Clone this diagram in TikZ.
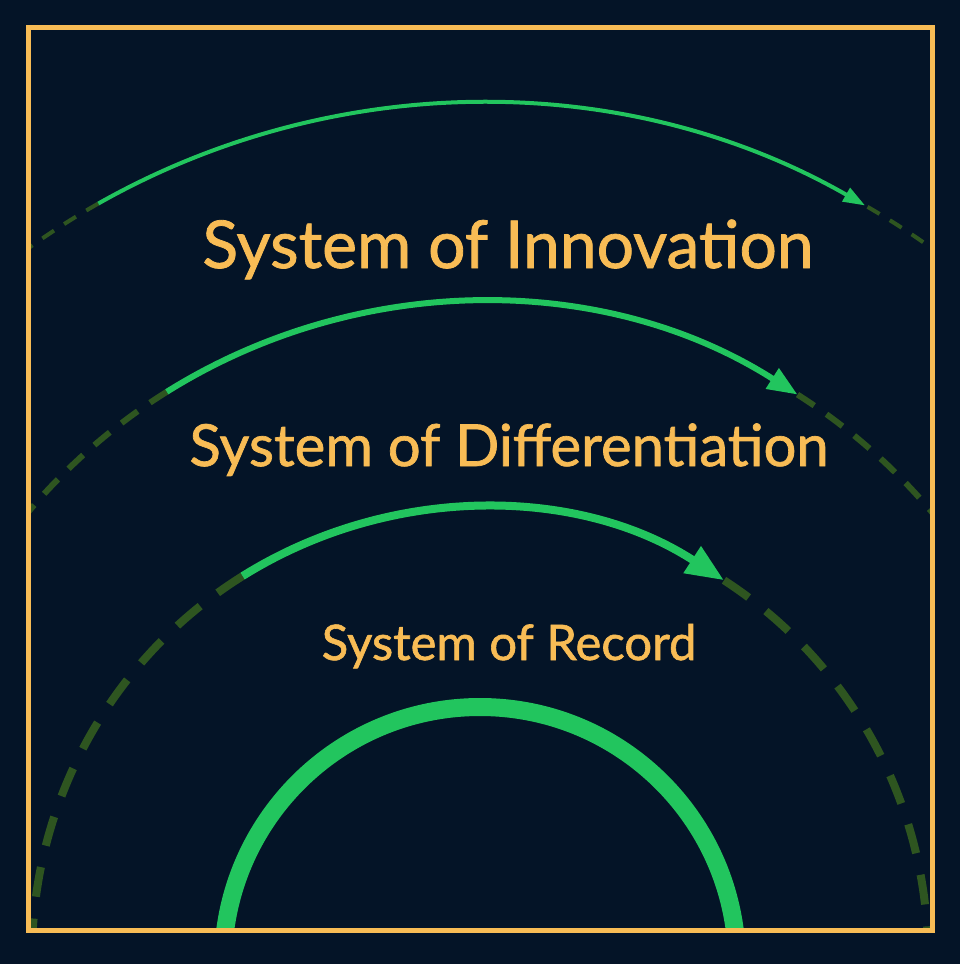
\documentclass[tikz,border=0pt]{standalone}
\usepackage{fontspec}
\setmainfont{Lato}
\newfontfamily\labelfont{Lato}[FakeBold=1.2]
\usetikzlibrary{arrows.meta}
\definecolor{bg}{HTML}{041427}
\definecolor{gold}{HTML}{F8BC55}
\definecolor{grn}{HTML}{22C55E}
\definecolor{dgrn}{HTML}{2E5520}
\tikzset{
  solidarc/.style={draw=grn, line cap=butt},
  dasharc/.style={draw=dgrn, line cap=butt},
  label/.style={text=gold, inner sep=0pt, anchor=base},
}
\begin{document}
\begin{tikzpicture}[x=1pt,y=-1pt]
\useasboundingbox (0,0) rectangle (960,964);
\fill[bg] (0,0) rectangle (960,964);
\begin{scope}
\clip (28,27) rectangle (932,930);
% innovation arc: center (480,878) r 775
\coordinate (c4) at (480,878);
\draw[dasharc, line width=4pt, dash pattern=on 14pt off 12pt] (c4) ++(-119.5:775) arc[start angle=-119.5, end angle=-132, radius=775];
\draw[dasharc, line width=4pt, dash pattern=on 14pt off 12pt] (c4) ++(-60:775) arc[start angle=-60, end angle=-48, radius=775];
\draw[solidarc, line width=4pt, -{Triangle[length=22pt,width=15pt]}] (c4) ++(-119.5:775) arc[start angle=-119.5, end angle=-60.2, radius=775];
% differentiation arc: center (480,893) r 591
\coordinate (c3) at (480,893);
\draw[dasharc, line width=6pt, dash pattern=on 20pt off 15pt] (c3) ++(-122:591) arc[start angle=-122, end angle=-145, radius=591];
\draw[dasharc, line width=6pt, dash pattern=on 20pt off 15pt] (c3) ++(-57.5:591) arc[start angle=-57.5, end angle=-35, radius=591];
\draw[solidarc, line width=6pt, -{Triangle[length=30pt,width=23pt]}] (c3) ++(-122:591) arc[start angle=-122, end angle=-57.5, radius=591];
% record arc: center (480,956) r 448
\coordinate (c2) at (480,956);
\draw[dasharc, line width=8pt, dash pattern=on 30pt off 22pt] (c2) ++(-122:448) arc[start angle=-122, end angle=-180, radius=448];
\draw[dasharc, line width=8pt, dash pattern=on 30pt off 22pt] (c2) ++(-57:448) arc[start angle=-57, end angle=0, radius=448];
\draw[solidarc, line width=8pt, -{Triangle[length=38pt,width=30pt]}] (c2) ++(-122:448) arc[start angle=-122, end angle=-57, radius=448];
% core arc: center (480,964) r 257
\coordinate (c1) at (480,964);
\draw[solidarc, line width=18pt] (c1) ++(-180:257) arc[start angle=-180, end angle=0, radius=257];
\end{scope}
\draw[gold, line width=5pt] (28,27) rectangle (932,930);
\node[label, font=\labelfont\fontsize{66}{70}\selectfont] (inno) at (508,268) {System of Innovation};
\node[label, font=\labelfont\fontsize{58}{64}\selectfont] (diff) at (509,466) {System of Differentiation};
\node[label, font=\labelfont\fontsize{49}{56}\selectfont] (rec) at (509,660) {System of Record};
\end{tikzpicture}
\end{document}
